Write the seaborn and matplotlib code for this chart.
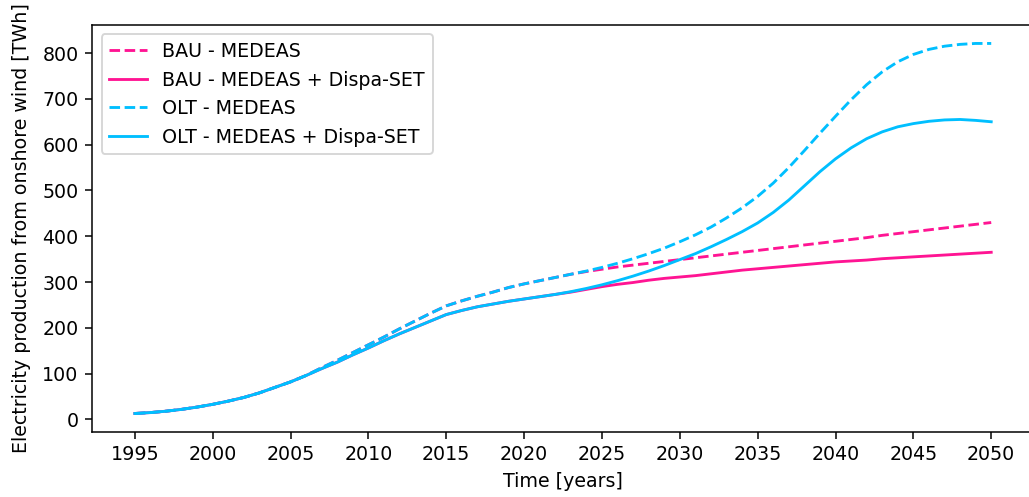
import numpy as np
import pandas as pd
import matplotlib
matplotlib.use("Agg")
import matplotlib.pyplot as plt
import seaborn as sns

# Années 1995 -> 2050
years = list(range(1995, 2051))

# Partie commune (1995-2006) pour toutes les courbes
common = [13, 15, 18, 22, 27, 33, 40, 48, 58, 70, 82, 96]

# OLT - MEDEAS + Dispa-SET (trait plein, bleu)
olt_dispa = common + [111, 125, 141, 156, 172, 187, 201, 215, 229,
                      238, 246, 252, 258, 263, 268, 273, 279, 286, 294,
                      303, 313, 324, 336, 349, 362, 377, 393, 410, 429,
                      452, 479, 510, 541, 569, 593, 613, 628, 639, 646,
                      651, 654, 655, 653, 650]

# OLT - MEDEAS (pointillés, bleu)
olt_medeas = common + [113, 129, 146, 163, 180, 198, 215, 232, 248,
                       259, 269, 278, 288, 296, 303, 310, 317, 324, 332,
                       341, 351, 362, 374, 388, 403, 420, 440, 462, 487,
                       516, 550, 587, 625, 662, 698, 731, 759, 781, 797,
                       808, 815, 819, 821, 821]

# BAU - MEDEAS (pointillés, rose)
bau_medeas = olt_medeas[:28] + [317, 323, 328, 333, 337, 341, 345, 349,
                                 353, 357, 361, 365, 369, 373, 377, 381,
                                 385, 389, 393, 397, 402, 406, 410, 414,
                                 418, 422, 426, 430]

# BAU - MEDEAS + Dispa-SET (trait plein, rose)
bau_dispa = olt_dispa[:27] + [273, 278, 284, 290, 295, 299, 304, 308, 311,
                              314, 318, 322, 326, 329, 332, 335, 338, 341,
                              344, 346, 348, 351, 353, 355, 357, 359, 361,
                              363, 365]

PINK = "#ff1493"
CYAN = "#00bfff"

series = [
    ("BAU - MEDEAS", bau_medeas, PINK, "--"),
    ("BAU - MEDEAS + Dispa-SET", bau_dispa, PINK, "-"),
    ("OLT - MEDEAS", olt_medeas, CYAN, "--"),
    ("OLT - MEDEAS + Dispa-SET", olt_dispa, CYAN, "-"),
]

fig = plt.figure(figsize=(1029 / 137, 497 / 137), dpi=137)
ax = fig.add_axes([0.0894, 0.1308, 0.9155, 0.819])

for label, vals, color, ls in series:
    df = pd.DataFrame({"year": years, "value": vals})
    sns.lineplot(data=df, x="year", y="value", color=color,
                 linestyle=ls, label=label, ax=ax)

ax.set_xticks(list(range(1995, 2051, 5)))
ax.set_xlabel("Time [years]")
ax.set_ylabel("Electricity production from onshore wind [TWh]", labelpad=6)
ax.legend(loc="upper left")

fig.savefig("out.png", dpi=137)
